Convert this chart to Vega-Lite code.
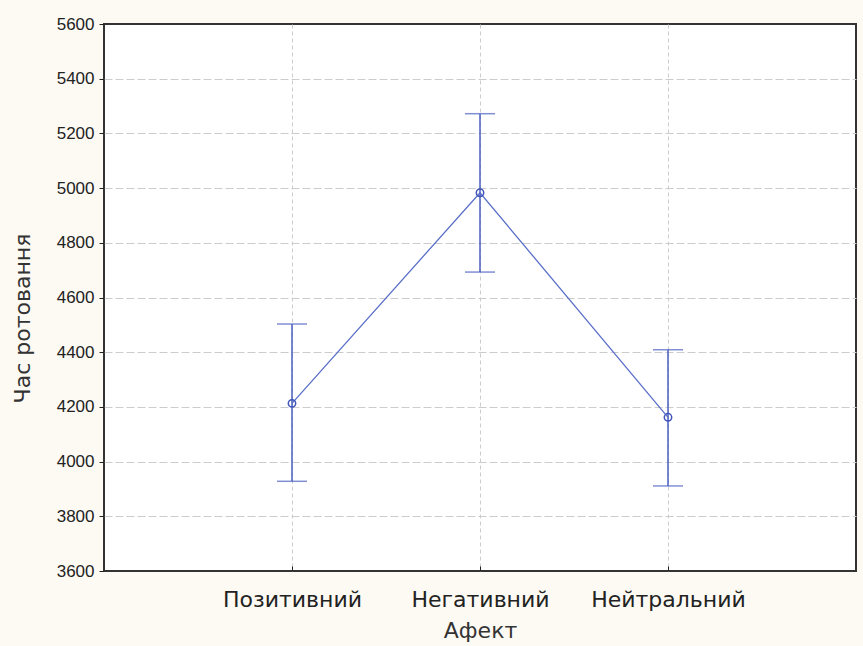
{
  "$schema": "https://vega.github.io/schema/vega-lite/v6.json",
  "width": 752,
  "height": 547,
  "autosize": {"type": "none"},
  "padding": {"left": 104, "top": 24, "right": 7, "bottom": 75},
  "background": "#fdfaf3",
  "config": {
    "view": {"fill": "white", "stroke": "#333333", "strokeWidth": 2},
    "axis": {"labelColor": "#222222", "titleColor": "#333333", "titleFontWeight": "normal", "domain": false}
  },
  "data": {
    "values": [
      {"affect": "Позитивний", "mean": 4213, "lo": 3928, "hi": 4503},
      {"affect": "Негативний", "mean": 4983, "lo": 4693, "hi": 5272},
      {"affect": "Нейтральний", "mean": 4162, "lo": 3911, "hi": 4409}
    ]
  },
  "encoding": {
    "x": {
      "field": "affect", "type": "nominal", "sort": null,
      "scale": {"type": "point", "padding": 1},
      "axis": {
        "title": "Афект", "labelAngle": 0, "labelFont": "DejaVu Sans", "labelFontSize": 22,
        "titleFont": "DejaVu Sans", "titleFontSize": 22, "labelPadding": 23, "titlePadding": 10,
        "ticks": true, "tickSize": -5, "tickColor": "#222222",
        "grid": true, "gridDash": [4, 3], "gridColor": "#cccccc", "gridWidth": 1
      }
    }
  },
  "layer": [
    {
      "mark": {"type": "rule", "color": "#4a5fc1", "strokeWidth": 1.5},
      "encoding": {
        "y": {
          "field": "lo", "type": "quantitative",
          "scale": {"domain": [3600, 5600], "nice": false, "zero": false},
          "axis": {
            "title": "Час ротовання", "values": [3600, 3800, 4000, 4200, 4400, 4600, 4800, 5000, 5200, 5400, 5600],
            "format": "d",
            "labelFont": "Liberation Sans", "labelFontSize": 17, "labelPadding": 5,
            "titleFont": "DejaVu Sans", "titleFontSize": 22, "titlePadding": 22, "titleY": 294,
            "tickSize": 5, "tickColor": "#222222",
            "grid": true, "gridDash": [8, 3], "gridColor": "#cccccc", "gridWidth": 1,
            "gridOpacity": {"condition": {"test": "datum.value === 3600 || datum.value === 5600", "value": 0}, "value": 1}
          }
        },
        "y2": {"field": "hi"}
      }
    },
    {
      "mark": {"type": "tick", "color": "#4a5fc1", "size": 30, "thickness": 1.5, "orient": "horizontal"},
      "encoding": {"y": {"field": "lo", "type": "quantitative"}}
    },
    {
      "mark": {"type": "tick", "color": "#4a5fc1", "size": 30, "thickness": 1.5, "orient": "horizontal"},
      "encoding": {"y": {"field": "hi", "type": "quantitative"}}
    },
    {
      "mark": {"type": "line", "color": "#5a6fc8", "strokeWidth": 1.3},
      "encoding": {"y": {"field": "mean", "type": "quantitative"}}
    },
    {
      "mark": {"type": "point", "shape": "circle", "filled": false, "color": "#3f55bb", "size": 55, "strokeWidth": 1.5, "opacity": 1},
      "encoding": {"y": {"field": "mean", "type": "quantitative"}}
    }
  ]
}
